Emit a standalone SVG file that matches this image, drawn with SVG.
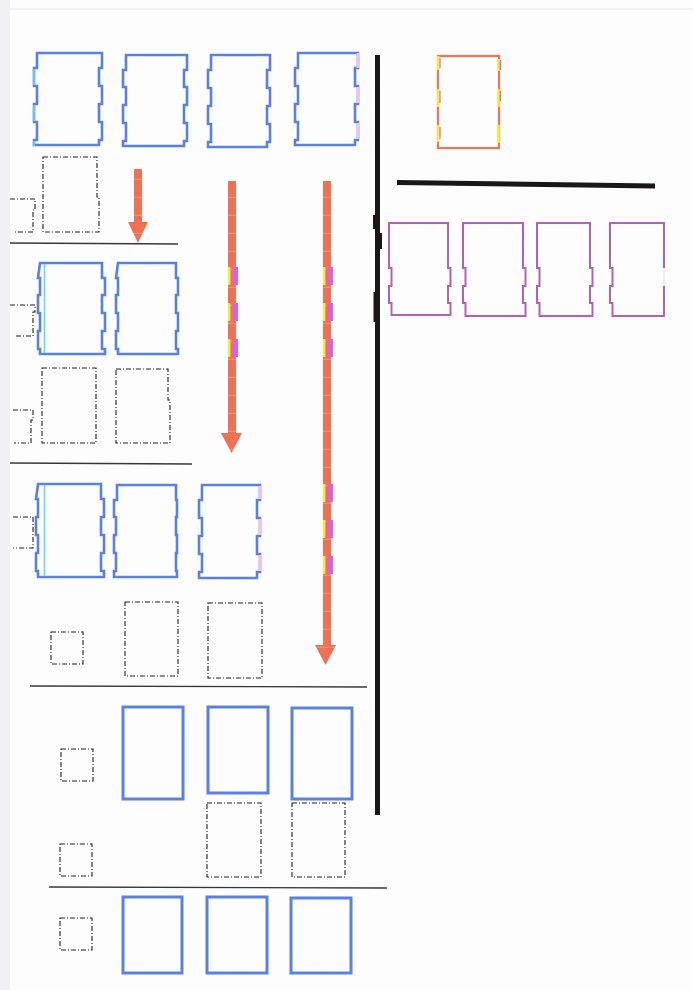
<svg xmlns="http://www.w3.org/2000/svg" width="693" height="990" viewBox="0 0 693 990">
<style>
.bg{fill:#fdfdfd}
.nb{fill:none;stroke:#5a80e0;stroke-width:2.6;stroke-linejoin:miter}
.pb{fill:none;stroke:#5a80e0;stroke-width:3}
.pu{fill:none;stroke:#b262b6;stroke-width:2}
.dd{fill:none;stroke:#221e1e;stroke-width:1.1;stroke-dasharray:5 2 1 2}
.rule{stroke:#3a3636;stroke-width:1.4}
.cy{stroke:#6cd4f0;stroke-width:1.6}
.pk{stroke:#f0c4e4;stroke-width:2.8}
.ye{fill:#f4ee30}
.mg{fill:#e060d0}
.ar{fill:url(#stripe)}
</style>
<defs>
<pattern id="stripe" patternUnits="userSpaceOnUse" width="20" height="18">
<rect width="20" height="18" fill="#ef7052"/>
<rect y="16.8" width="20" height="1" fill="#f59a62"/>
</pattern>
</defs>
<rect class="bg" width="693" height="990"/>
<rect x="0" y="0" width="10" height="990" fill="#f1f1f4"/>
<line x1="10" y1="9" x2="693" y2="9" stroke="#e8e8ee" stroke-width="1"/>

<g id="separators">
<rect x="375" y="55" width="5" height="760" fill="#1c1616"/>
<rect x="373" y="215" width="3" height="14" fill="#1c1616"/>
<rect x="373.5" y="292" width="2.5" height="30" fill="#1c1616"/>
<rect x="380" y="233" width="2" height="16" fill="#1c1616"/>
<line x1="397" y1="182.5" x2="655" y2="186" stroke="#1c1616" stroke-width="5"/>
<line class="rule" x1="10" y1="243" x2="178" y2="244"/>
<line class="rule" x1="10" y1="463" x2="192" y2="464"/>
<line class="rule" x1="30" y1="686" x2="367" y2="687"/>
<line class="rule" x1="49" y1="887" x2="387" y2="888"/>
</g>

<g id="row1-blue">
<g id="boxA"><path class="nb" d="M37,53 H102 V68 H99 V86 H102 V104 H99 V122 H102 V140 H99 V145 H34 V140 H37 V122 H34 V104 H37 V86 H34 V68 H37 Z"/>
<line class="cy" x1="34" y1="69" x2="34" y2="85"/><line class="cy" x1="34" y1="105" x2="34" y2="121"/><line class="cy" x1="34" y1="141" x2="34" y2="146"/></g>
<g id="boxB"><path class="nb" d="M126,55 H187 V70 H184 V87 H187 V105 H184 V123 H187 V141 H184 V146 H123 V141 H126 V123 H123 V105 H126 V87 H123 V70 H126 Z"/></g>
<g id="boxC"><path class="nb" d="M211,55 H270 V70 H267 V88 H270 V106 H267 V124 H270 V142 H267 V147 H208 V142 H211 V124 H208 V106 H211 V88 H208 V70 H211 Z"/></g>
<g id="boxD"><path class="nb" d="M298,53 H358 V68 H355 V86 H358 V104 H355 V122 H358 V140 H355 V145 H295 V140 H298 V122 H295 V104 H298 V86 H295 V68 H298 Z"/>
<line class="pk" x1="358" y1="53" x2="358" y2="68"/><line class="pk" x1="358" y1="87" x2="358" y2="103"/><line class="pk" x1="358" y1="123" x2="358" y2="139"/></g>
</g>

<g id="orange-box">
<rect x="438" y="56" width="61" height="92" fill="none" stroke="#f07454" stroke-width="2.2"/>
<rect class="ye" x="436.8" y="56" width="2.6" height="14"/><rect class="ye" x="436.8" y="89" width="2.6" height="18"/><rect class="ye" x="436.8" y="125" width="2.6" height="17"/>
<rect class="mg" x="439.4" y="58" width="1.2" height="10"/><rect class="mg" x="439.4" y="91" width="1.2" height="12"/><rect class="mg" x="439.4" y="127" width="1.2" height="12"/>
<rect class="ye" x="497.2" y="59" width="2.6" height="12"/><rect class="ye" x="497.2" y="89" width="2.6" height="18"/><rect class="ye" x="497.2" y="125" width="2.6" height="18"/>
<rect class="mg" x="499.8" y="60" width="1.2" height="10"/><rect class="mg" x="499.8" y="91" width="1.2" height="10"/>
</g>

<g id="row-purple">
<g id="P1"><path class="pu" d="M389,223 H448 V268 H450.5 V286 H448 V303 H450.5 V315 H391.5 V303 H389 V286 H391.5 V268 H389 Z"/></g>
<g id="P2"><path class="pu" d="M463,223 H523 V268 H525.5 V286 H523 V303 H525.5 V316 H465.5 V303 H463 V286 H465.5 V268 H463 Z"/></g>
<g id="P3"><path class="pu" d="M537,223 H590 V268 H592.5 V286 H590 V303 H592.5 V316 H539.5 V303 H537 V286 H539.5 V268 H537 Z"/></g>
<g id="P4"><path class="pu" d="M610,223 H664 V268 H664 V286 H664 V303 H664 V316 H612.5 V303 H610 V286 H612.5 V268 H610 Z"/>
<line x1="664" y1="268" x2="664" y2="286" stroke="#f4eedc" stroke-width="2.4"/></g>
</g>

<g id="row1-dashed">
<path class="dd" d="M43,157 H97 V197 H99 V232 H43 Z"/>
<path class="dd" d="M10,199 H35 V210 H33 V232 H14"/>
</g>

<g id="row2-blue">
<g id="boxE"><path class="nb" d="M40,263 H102 V278 H105 V295 H102 V313 H105 V331 H102 V349 H105 V354 H40 V349 H38 V331 H40 V313 H38 V295 H40 V278 H38 Z"/>
<line class="cy" x1="44.5" y1="264" x2="44.5" y2="353"/></g>
<g id="boxF"><path class="nb" d="M118,263 H176 V278 H178 V295 H176 V313 H178 V331 H176 V349 H178 V354 H118 V349 H116 V331 H118 V313 H116 V295 H118 V278 H116 Z"/></g>
<path class="dd" d="M10,305 H35 V312 H33 V336 H14"/>
</g>

<g id="row2-dashed">
<path class="dd" d="M42,368 H96 V443 H42 Z"/>
<path class="dd" d="M116,369 H168 V400 H170 V443 H116 Z"/>
<path class="dd" d="M13,410 H33 V420 H31 V443 H14"/>
</g>

<g id="row3-blue">
<g id="boxI"><path class="nb" d="M38,484 H101 V499 H104 V517 H101 V535 H104 V553 H101 V571 H104 V577 H38 V571 H36 V553 H38 V535 H36 V517 H38 V499 H36 Z"/>
<line class="cy" x1="44.5" y1="485" x2="44.5" y2="576"/></g>
<g id="boxJ"><path class="nb" d="M117,485 H176 V500 H177 V517 H176 V535 H177 V553 H176 V571 H177 V577 H114 V571 H116 V553 H114 V535 H116 V517 H114 V500 H117 Z"/></g>
<g id="boxK"><path class="nb" d="M202,485 H260 V500 H257 V518 H260 V536 H257 V554 H260 V572 H257 V578 H199 V572 H202 V554 H199 V536 H202 V518 H199 V500 H202 Z"/>
<line class="pk" x1="260" y1="486" x2="260" y2="499"/><line class="pk" x1="260" y1="519" x2="260" y2="535"/><line class="pk" x1="260" y1="555" x2="260" y2="571"/></g>
<path class="dd" d="M13,517 H33 V548 H13"/>
</g>

<g id="row3-dashed">
<rect class="dd" x="51" y="632" width="32" height="32"/>
<rect class="dd" x="125" y="602" width="53" height="74"/>
<rect class="dd" x="208" y="603" width="54" height="75"/>
</g>

<g id="section4">
<rect class="pb" x="123" y="707" width="60" height="92"/>
<rect class="pb" x="208" y="707" width="60" height="86"/>
<rect class="pb" x="292" y="708" width="60" height="91"/>
<rect class="dd" x="61" y="749" width="32" height="32"/>
<rect class="dd" x="207" y="803" width="54" height="74"/>
<rect class="dd" x="292" y="803" width="53" height="74"/>
<rect class="dd" x="60" y="844" width="32" height="32"/>
</g>

<g id="section5">
<rect class="pb" x="123" y="897" width="59" height="76"/>
<rect class="pb" x="207" y="897" width="60" height="76"/>
<rect class="pb" x="291" y="898" width="60" height="75"/>
<rect class="dd" x="60" y="918" width="32" height="32"/>
</g>

<g id="connectors">
<g id="arrow1"><rect class="ar" x="134" y="169" width="8" height="54"/><polygon class="ar" points="128,222 148,222 138,243"/></g>
<g id="arrow2"><rect class="ar" x="228" y="181" width="8" height="253"/><polygon class="ar" points="221,433 242,433 231.5,453"/>
<rect class="mg" x="232" y="267" width="6" height="18"/><rect class="ye" x="228" y="267" width="2.4" height="18"/>
<rect class="mg" x="232" y="303" width="6" height="18"/><rect class="ye" x="228" y="303" width="2.4" height="18"/>
<rect class="mg" x="232" y="339" width="6" height="18"/><rect class="ye" x="228" y="339" width="2.4" height="18"/></g>
<g id="arrow3"><rect class="ar" x="323" y="181" width="8" height="465"/><polygon class="ar" points="315,645 336,645 325.5,665"/>
<rect class="mg" x="327" y="267" width="6" height="18"/><rect class="ye" x="323" y="267" width="2.4" height="18"/>
<rect class="mg" x="327" y="303" width="6" height="18"/><rect class="ye" x="323" y="303" width="2.4" height="18"/>
<rect class="mg" x="327" y="339" width="6" height="18"/><rect class="ye" x="323" y="339" width="2.4" height="18"/>
<rect class="mg" x="327" y="484" width="6" height="18"/><rect class="ye" x="323" y="484" width="2.4" height="18"/>
<rect class="mg" x="327" y="520" width="6" height="18"/><rect class="ye" x="323" y="520" width="2.4" height="18"/>
<rect class="mg" x="327" y="556" width="6" height="18"/><rect class="ye" x="323" y="556" width="2.4" height="18"/></g>
</g>
</svg>
